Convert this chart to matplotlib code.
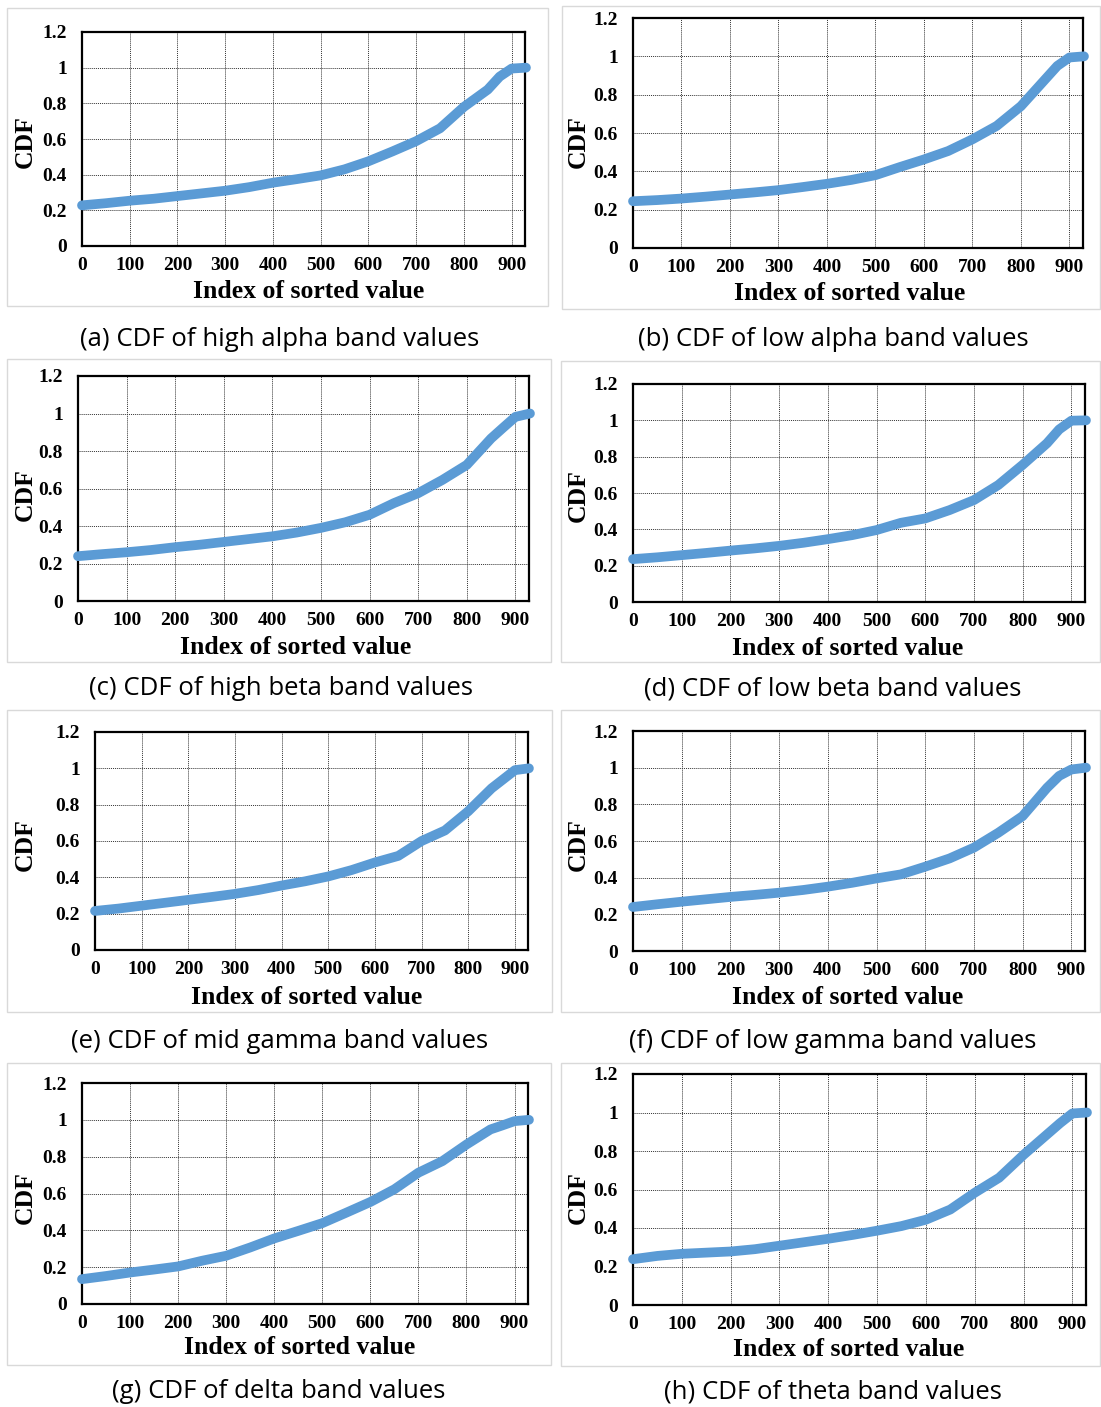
import matplotlib
matplotlib.use("Agg")
import matplotlib.pyplot as plt
from matplotlib.patches import Rectangle

# Index positions at which each sorted-value CDF is sampled
index_pts = [0, 50, 100, 150, 200, 250, 300, 350, 400, 450, 500,
             550, 600, 650, 700, 750, 800, 850, 875, 900, 930]

cdf_high_alpha = [0.228, 0.240, 0.254, 0.265, 0.280, 0.295, 0.310, 0.330, 0.355, 0.375, 0.396,
                  0.430, 0.475, 0.530, 0.588, 0.660, 0.780, 0.877, 0.950, 0.995, 1.000]
cdf_low_alpha = [0.244, 0.250, 0.258, 0.268, 0.279, 0.290, 0.302, 0.318, 0.335, 0.355, 0.380,
                 0.422, 0.462, 0.506, 0.567, 0.637, 0.740, 0.880, 0.950, 0.994, 1.000]
cdf_high_beta = [0.239, 0.250, 0.260, 0.272, 0.287, 0.300, 0.315, 0.330, 0.345, 0.365, 0.390,
                 0.420, 0.460, 0.522, 0.575, 0.646, 0.726, 0.867, 0.925, 0.982, 1.000]
cdf_low_beta = [0.236, 0.246, 0.258, 0.270, 0.283, 0.295, 0.309, 0.326, 0.346, 0.368, 0.396,
                0.436, 0.460, 0.506, 0.561, 0.644, 0.755, 0.874, 0.950, 0.998, 1.000]
cdf_mid_gamma = [0.215, 0.228, 0.244, 0.260, 0.276, 0.292, 0.309, 0.330, 0.355, 0.378, 0.405,
                 0.440, 0.482, 0.518, 0.600, 0.658, 0.764, 0.890, 0.940, 0.990, 1.000]
cdf_low_gamma = [0.240, 0.255, 0.269, 0.282, 0.295, 0.306, 0.318, 0.333, 0.351, 0.372, 0.396,
                 0.418, 0.460, 0.505, 0.564, 0.645, 0.736, 0.890, 0.955, 0.990, 1.000]
cdf_delta = [0.135, 0.152, 0.171, 0.187, 0.204, 0.235, 0.262, 0.307, 0.356, 0.397, 0.439,
             0.496, 0.554, 0.623, 0.713, 0.776, 0.866, 0.948, 0.970, 0.993, 1.000]
cdf_theta = [0.238, 0.255, 0.266, 0.272, 0.278, 0.290, 0.308, 0.326, 0.344, 0.364, 0.386,
             0.410, 0.443, 0.496, 0.583, 0.661, 0.780, 0.890, 0.945, 0.995, 1.000]

captions = ["(a) CDF of high alpha band values", "(b) CDF of low alpha band values",
            "(c) CDF of high beta band values", "(d) CDF of low beta band values",
            "(e) CDF of mid gamma band values", "(f) CDF of low gamma band values",
            "(g) CDF of delta band values", "(h) CDF of theta band values"]
series = [cdf_high_alpha, cdf_low_alpha, cdf_high_beta, cdf_low_beta,
          cdf_mid_gamma, cdf_low_gamma, cdf_delta, cdf_theta]

x_ticks = [0, 100, 200, 300, 400, 500, 600, 700, 800, 900]
y_ticks = [0, 0.2, 0.4, 0.6, 0.8, 1.0, 1.2]
y_tick_labels = ["0", "0.2", "0.4", "0.6", "0.8", "1", "1.2"]

W, H = 1101, 1407
fig = plt.figure(figsize=(W / 100, H / 100), dpi=100)

# Pixel layout: frame box, axes box, x-label centre, y-label centre, caption centre
layout = [
    dict(box=(7, 8, 548, 306), ax=(82, 32, 525, 246), xl=(309, 291), yl=(25, 142), cap=(280, 339)),
    dict(box=(562, 6, 1100, 309), ax=(633, 18, 1083, 248), xl=(850, 294), yl=(578, 142), cap=(833, 339)),
    dict(box=(7, 359, 551, 662), ax=(78, 376, 529, 601), xl=(296, 647), yl=(25, 495), cap=(281, 689)),
    dict(box=(561, 361, 1100, 662), ax=(633, 384, 1085, 602), xl=(848, 648), yl=(578, 496), cap=(833, 689)),
    dict(box=(7, 710, 552, 1012), ax=(95, 732, 528, 950), xl=(307, 997), yl=(25, 845), cap=(280, 1042)),
    dict(box=(561, 710, 1100, 1012), ax=(633, 731, 1085, 951), xl=(848, 997), yl=(578, 845), cap=(833, 1042)),
    dict(box=(7, 1063, 551, 1365), ax=(82, 1083, 528, 1304), xl=(300, 1348), yl=(25, 1198), cap=(279, 1392)),
    dict(box=(561, 1063, 1100, 1366), ax=(633, 1074, 1086, 1305), xl=(849, 1349), yl=(578, 1198), cap=(833, 1392)),
]

serif_bold = dict(family="Liberation Serif", weight="bold")
line_color = "#5B9BD5"

def fx(px):
    return px / W

def fy(py):
    return 1 - py / H

for spec, values, caption in zip(layout, series, captions):
    bx0, by0, bx1, by1 = spec["box"]
    fig.patches.append(Rectangle((fx(bx0), fy(by1)), fx(bx1 - bx0), (by1 - by0) / H,
                                 transform=fig.transFigure, fill=False,
                                 edgecolor="#d9d9d9", linewidth=1.0, zorder=0))

    ax0, ay0, ax1, ay1 = spec["ax"]
    ax = fig.add_axes([fx(ax0), fy(ay1), fx(ax1 - ax0), (ay1 - ay0) / H])
    ax.plot(index_pts, values, color=line_color, linewidth=7.0,
            solid_capstyle="round", solid_joinstyle="round", clip_on=False, zorder=3)
    ax.set_xlim(0, 928)
    ax.set_ylim(0, 1.2)
    ax.set_xticks(x_ticks)
    ax.set_xticklabels([str(t) for t in x_ticks])
    ax.set_yticks(y_ticks)
    ax.set_yticklabels(y_tick_labels)
    ax.tick_params(length=0, labelsize=14)
    ax.tick_params(axis="x", pad=8)
    ax.tick_params(axis="y", pad=11)
    for lab in ax.get_xticklabels() + ax.get_yticklabels():
        lab.set_fontfamily("Liberation Serif")
        lab.set_fontweight("bold")
    ax.grid(True, color="#333333", linestyle=(0, (1, 1)), linewidth=0.7)
    ax.set_axisbelow(True)
    for sp in ax.spines.values():
        sp.set_linewidth(1.6)
        sp.set_color("black")

    fig.text(fx(spec["xl"][0]), fy(spec["xl"][1]), "Index of sorted value",
             ha="center", va="center", fontsize=18.5, **serif_bold)
    fig.text(fx(spec["yl"][0]), fy(spec["yl"][1]), "CDF", rotation=90,
             ha="center", va="center", fontsize=18.5, **serif_bold)
    fig.text(fx(spec["cap"][0]), fy(spec["cap"][1]), caption,
             ha="center", va="center", fontsize=18.5, family="Open Sans")

fig.savefig("out.png", dpi=100, facecolor="white")
